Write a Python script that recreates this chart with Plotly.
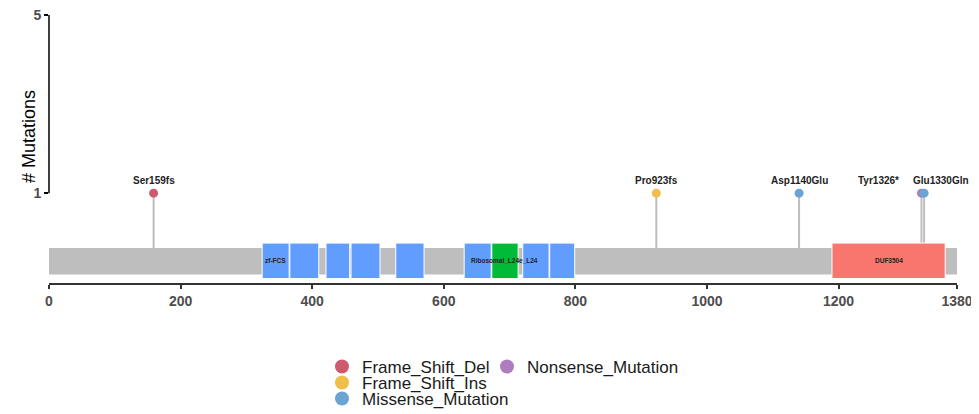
import plotly.graph_objects as go

# ---------------- data ----------------
protein_length = 1380

mut_labels = ["Ser159fs", "Pro923fs", "Asp1140Glu", "Tyr1326*", "Glu1330Gln"]
mut_pos = [159, 923, 1140, 1326, 1330]
mut_count = [1, 1, 1, 1, 1]
mut_class = ["Frame_Shift_Del", "Frame_Shift_Ins", "Missense_Mutation",
             "Nonsense_Mutation", "Missense_Mutation"]

classes = ["Frame_Shift_Del", "Frame_Shift_Ins", "Missense_Mutation", "Nonsense_Mutation"]

domain_names = ["zf-FCS", "zf-FCS", "zf-FCS", "zf-FCS", "zf-FCS", "zf-FCS",
                "Ribosomal_L24e_L24", "zf-FCS", "zf-FCS", "DUF3504"]
domain_start = [324, 366, 421, 459, 527, 631, 673, 720, 761, 1190]
domain_end = [365, 410, 457, 503, 570, 672, 713, 760, 799, 1362]

x_ticks = [0, 200, 400, 600, 800, 1000, 1200, 1380]
y_ticks = [1, 5]

# ---------------- styles ----------------
class_colors = {
    "Frame_Shift_Del": "#CE5A6E",
    "Frame_Shift_Ins": "#F2BE4A",
    "Missense_Mutation": "#6BA3D3",
    "Nonsense_Mutation": "#B07CC0",
}
domain_colors = {"DUF3504": "#F8766D", "Ribosomal_L24e_L24": "#00BA38", "zf-FCS": "#619CFF"}
label_xshift = {"Tyr1326*": -43, "Glu1330Gln": 17}

bar_y = (-0.827, -0.232)
dom_y = (-0.917, -0.121)
y_range = [-1.017, 5]

# the page body has an 8px default margin, so the figure is drawn 8px in
OFF = 8
W, H = 979 - OFF, 414 - OFF
FONT = "Liberation Sans, Arial, sans-serif"

fig = go.Figure()

# stems
sx, sy = [], []
for p, c in zip(mut_pos, mut_count):
    sx += [p, p, None]
    sy += [sum(bar_y) / 2, c, None]
fig.add_trace(go.Scatter(x=sx, y=sy, mode="lines", line=dict(color="#BEBEBE", width=2),
                         hoverinfo="skip", showlegend=False))

# lollipop heads
for lab, p, c, cl in zip(mut_labels, mut_pos, mut_count, mut_class):
    fig.add_trace(go.Scatter(x=[p], y=[c], mode="markers",
                             marker=dict(size=9, color=class_colors[cl]),
                             name=cl, showlegend=False, hovertext=lab, hoverinfo="text"))

# legend entries (single-item legends to reproduce the 2-column layout)
legend_ids = ["legend", "legend2", "legend3", "legend4"]
for cl, lid in zip(classes, legend_ids):
    fig.add_trace(go.Scatter(x=[None], y=[None], mode="markers",
                             marker=dict(size=14, color=class_colors[cl]),
                             name=cl, showlegend=True, legend=lid))

shapes = []
shapes.append(dict(type="rect", xref="x", yref="y", x0=0, x1=protein_length,
                   y0=bar_y[0], y1=bar_y[1], fillcolor="#BEBEBE",
                   line=dict(width=0), layer="above"))
for n, s, e in zip(domain_names, domain_start, domain_end):
    shapes.append(dict(type="rect", xref="x", yref="y", x0=s, x1=e,
                       y0=dom_y[0], y1=dom_y[1], fillcolor=domain_colors[n],
                       line=dict(color="white", width=1), layer="above"))
shapes.append(dict(type="line", xref="paper", yref="y", x0=0, x1=0,
                   y0=min(y_ticks), y1=max(y_ticks), line=dict(color="black", width=1.5)))

annotations = []
seen = set()
for n, s, e in zip(domain_names, domain_start, domain_end):
    if n in seen:
        continue
    seen.add(n)
    annotations.append(dict(x=(s + e) / 2, y=sum(dom_y) / 2, xref="x", yref="y",
                            text="<b>%s</b>" % n, showarrow=False,
                            font=dict(family=FONT, size=6.5, color="#222222")))
for lab, p, c in zip(mut_labels, mut_pos, mut_count):
    annotations.append(dict(x=p, y=c, xref="x", yref="y", text="<b>%s</b>" % lab,
                            showarrow=False, yshift=13, xshift=label_xshift.get(lab, 0),
                            font=dict(family=FONT, size=10, color="#222222")))
annotations.append(dict(x=-0.0352, y=0.545, xref="paper", yref="paper",
                        text="# Mutations", textangle=-90, showarrow=False,
                        font=dict(family=FONT, size=18, color="black")))

leg_common = dict(font=dict(family=FONT, size=17, color="#1a1a1a"),
                  bgcolor="rgba(0,0,0,0)", yanchor="middle", xanchor="left",
                  orientation="v", itemclick=False, xref="container", yref="container")


def lx(px):
    return (px - OFF) / W


def ly(px):
    return 1 - (px - OFF) / H


fig.update_layout(
    width=W, height=H,
    margin=dict(l=49 - OFF, r=22, t=15 - OFF, b=131, autoexpand=False),
    plot_bgcolor="white", paper_bgcolor="white",
    xaxis=dict(range=[0, protein_length], tickvals=x_ticks,
               ticktext=["<b>%d</b>" % t for t in x_ticks],
               showline=True, linecolor="#333333", linewidth=1.5, ticks="outside",
               ticklen=4, tickwidth=1.5, tickcolor="#333333", showgrid=False, zeroline=False,
               tickfont=dict(family=FONT, size=14, color="#4D4D4D"), fixedrange=True,
               automargin=False, ticklabeloverflow="allow"),
    yaxis=dict(range=y_range, tickvals=y_ticks, ticktext=["<b>%d</b>" % t for t in y_ticks],
               showline=False, ticks="outside", ticklen=4, tickwidth=1.5, tickcolor="black",
               showgrid=False, zeroline=False,
               tickfont=dict(family=FONT, size=14, color="#4D4D4D"), fixedrange=True,
               automargin=False, ticklabeloverflow="allow"),
    shapes=shapes,
    annotations=annotations,
    legend=dict(x=lx(322), y=ly(367), **leg_common),
    legend2=dict(x=lx(322), y=ly(383), **leg_common),
    legend3=dict(x=lx(322), y=ly(399), **leg_common),
    legend4=dict(x=lx(487), y=ly(367), **leg_common),
    showlegend=True,
)

fig.write_html("out.html")
